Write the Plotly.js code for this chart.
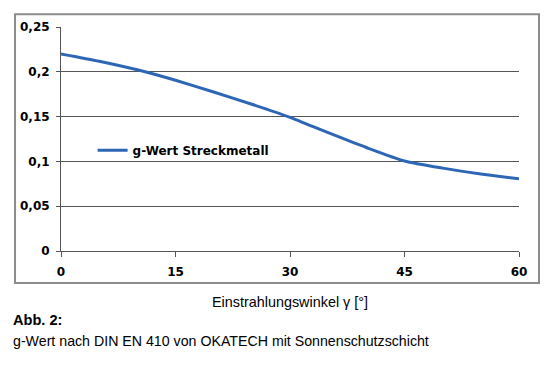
<!DOCTYPE html>
<html>
<head>
<meta charset="utf-8">
<script src="https://cdn.plot.ly/plotly-3.0.1.min.js"></script>
<style>html,body{margin:0;padding:0;background:#fff;}#chart{width:555px;height:382px;}</style>
</head>
<body>
<div id="chart"></div>
<script>
// Data
const angles = [0, 5, 10, 15, 20, 25, 30, 35, 40, 45, 50, 55, 60];
const gValues = [0.22, 0.2118, 0.2022, 0.1905, 0.1775, 0.1638, 0.1492, 0.132, 0.1155, 0.1005, 0.0925, 0.086, 0.0805];
const seriesName = "g-Wert Streckmetall";
const xTicks = [0, 15, 30, 45, 60];
const yTicks = [0, 0.05, 0.1, 0.15, 0.2, 0.25];
const yTickLabels = ["0", "0,05", "0,1", "0,15", "0,2", "0,25"];
const xTitle = "Einstrahlungswinkel γ [°]";
const captionHead = "Abb. 2:";
const captionText = "g-Wert nach DIN EN 410 von OKATECH mit Sonnenschutzschicht";

const tickFont = {family: "DejaVu Sans", size: 12, color: "#000", weight: "bold"};
const narrow = "Liberation Sans Narrow, Liberation Sans, Arial";

const trace = {
  x: angles, y: gValues, name: seriesName, type: "scatter", mode: "lines",
  line: {color: "#2d66b5", width: 3, shape: "spline", smoothing: 0.6}
};

const layout = {
  width: 555, height: 382,
  margin: {l: 61, r: 36, t: 27, b: 131},
  paper_bgcolor: "#fff", plot_bgcolor: "#fff",
  showlegend: true,
  legend: {x: 0.069, y: 0.45, xanchor: "left", yanchor: "middle", bgcolor: "rgba(0,0,0,0)",
    font: {family: "DejaVu Sans", size: 12, color: "#000", weight: "bold"}, itemwidth: 30},
  xaxis: {
    range: [0, 60], tickvals: xTicks, ticktext: xTicks.map(String),
    showgrid: false, zeroline: false, showline: true, linecolor: "#555", linewidth: 1,
    ticks: "outside", ticklen: 5, tickcolor: "#555", tickfont: tickFont, fixedrange: true,
    ticklabelstandoff: 5,
    title: {text: xTitle, font: {family: narrow, size: 14.4, color: "#000"}, standoff: 18}
  },
  yaxis: {
    range: [0, 0.25], tickvals: yTicks, ticktext: yTickLabels,
    showgrid: true, gridcolor: "#555", gridwidth: 1, zeroline: false,
    showline: true, linecolor: "#555", linewidth: 1,
    ticks: "outside", ticklen: 4, tickcolor: "#555", tickfont: tickFont, fixedrange: true,
    ticklabelstandoff: 4
  },
  shapes: [{
    type: "rect", xref: "paper", yref: "paper",
    x0: -0.1004, x1: 1.0437, y0: -0.1427, y1: 1.0566,
    line: {color: "#8c8c8c", width: 2}, fillcolor: "rgba(0,0,0,0)", layer: "below"
  }],
  annotations: [
    {text: "<b>" + captionHead + "</b>", xref: "paper", yref: "paper", x: -0.11, y: -0.31,
     xanchor: "left", yanchor: "middle", showarrow: false,
     font: {family: narrow, size: 14.6, color: "#000"}},
    {text: captionText, xref: "paper", yref: "paper", x: -0.11, y: -0.40,
     xanchor: "left", yanchor: "middle", showarrow: false,
     font: {family: narrow, size: 14.2, color: "#000"}}
  ]
};

Plotly.newPlot("chart", [trace], layout, {displayModeBar: false, staticPlot: true});
</script>
</body>
</html>
